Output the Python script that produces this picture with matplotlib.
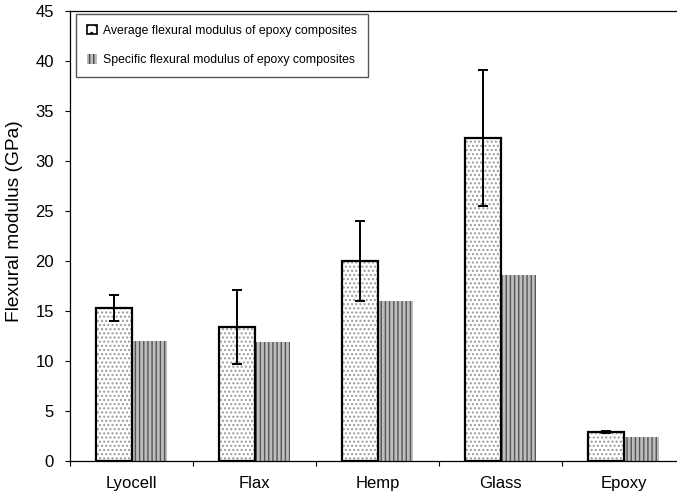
import numpy as np
import matplotlib.pyplot as plt

plt.rcParams['font.family'] = 'Liberation Sans'
plt.rcParams['hatch.linewidth'] = 1.0

# data
materials = ['Lyocell', 'Flax', 'Hemp', 'Glass', 'Epoxy']
avg_modulus = [15.3, 13.4, 20.0, 32.3, 2.9]
avg_err = [1.3, 3.7, 4.0, 6.8, 0.08]
spec_modulus = [12.0, 11.9, 16.0, 18.6, 2.4]

fig = plt.figure(figsize=(6.77, 4.96), dpi=100)
ax = fig.add_axes([70 / 677, 35 / 496, 615 / 677, 450 / 496])

x = np.arange(len(materials))
w = 0.285

ax.bar(x - w / 2, avg_modulus, w, color='white', edgecolor='#999999',
       hatch='....', linewidth=0, zorder=2)
ax.bar(x - w / 2, avg_modulus, w, color='none', edgecolor='black',
       linewidth=1.6, zorder=3)
ax.errorbar(x - w / 2, avg_modulus, yerr=avg_err, fmt='none', ecolor='black',
            elinewidth=1.4, capsize=3.3, capthick=1.4, zorder=4)
ax.bar(x + w / 2, spec_modulus, w, color='#bdbdbd', edgecolor='#555555',
       hatch='||||', linewidth=0, zorder=2)

# legend proxies
h1 = plt.Rectangle((0, 0), 1, 1, facecolor='white', edgecolor='black',
                   hatch='..', linewidth=1.2)
h2 = plt.Rectangle((0, 0), 1, 1, facecolor='#bdbdbd', edgecolor='#444444',
                   hatch='||||', linewidth=0)
leg = ax.legend([h1, h2], ['Average flexural modulus of epoxy composites',
                           'Specific flexural modulus of epoxy composites'],
                loc='upper left', bbox_to_anchor=(6 / 615, 447 / 450),
                borderaxespad=0, fontsize=8.8,
                fancybox=False, edgecolor='#555555', framealpha=1,
                handlelength=0.8, handleheight=0.8, labelspacing=1.4,
                borderpad=0.9, handletextpad=0.5)
leg.get_frame().set_linewidth(1.0)

ax.set_xlim(-0.5, 4.5)
ax.set_ylim(0, 45)
ax.set_yticks(np.arange(0, 46, 5))
ax.set_xticks(np.arange(-0.5, 4.6, 1), minor=False)
ax.set_xticklabels([])
ax.set_xticks(x, minor=True)
ax.set_xticklabels(materials, minor=True, fontsize=12)
ax.tick_params(axis='x', which='minor', length=0, pad=11)
ax.tick_params(axis='x', which='major', length=3.6, direction='out')
ax.tick_params(axis='y', length=3.6, labelsize=12, pad=8)
ax.set_ylabel('Flexural modulus (GPa)', fontsize=13.8)
ax.yaxis.set_label_coords(-0.077, 0.533)
ax.spines['right'].set_visible(False)
for s in ['left', 'bottom', 'top']:
    ax.spines[s].set_linewidth(0.9)

fig.savefig('out.png', dpi=100)
